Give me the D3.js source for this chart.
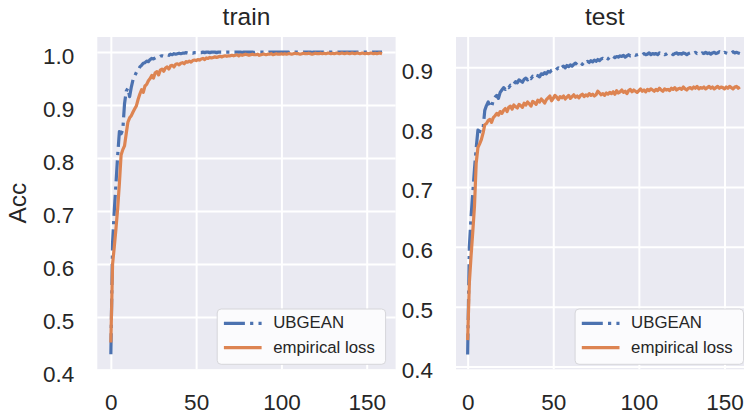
<!DOCTYPE html>
<html>
<head>
<meta charset="utf-8">
<script src="https://cdn.jsdelivr.net/npm/d3@7"></script>
<style>
body { margin: 0; background: #fff; }
svg text { font-family: "Liberation Sans", Arial, sans-serif; fill: #262626; }
</style>
</head>
<body>
<div id="chart"></div>
<script>
var seriesNames = ["UBGEAN", "empirical loss"];
var xTicks = [0, 50, 100, 150];
var trainYTicks = [0.4, 0.5, 0.6, 0.7, 0.8, 0.9, 1.0];
var testYTicks = [0.4, 0.5, 0.6, 0.7, 0.8, 0.9];

// accuracy per epoch
var trainUBGEAN = [
	.430,.640,.700,.752,.805,.850,.846,.853,.902,.926,
	.932,.916,.934,.948,.955,.962,.965,.972,.975,.979,
	.980,.983,.982,.986,.988,.987,.989,.991,.990,.992,
	.993,.992,.994,.995,.994,.996,.995,.997,.996,.997,
	.998,.997,.998,.998,.999,.998,.999,.999,.998,.999,
	.999,1.0,.999,.999,1.0,.999,1.0,1.0,.999,1.0,
	1.0,1.0,.999,1.0,1.0,1.0,.999,1.0,1.0,1.0,
	1.0,.999,1.0,1.0,1.0,1.0,1.0,.999,1.0,1.0,
	1.0,1.0,1.0,1.0,.999,1.0,1.0,1.0,1.0,1.0,
	1.0,1.0,.999,1.0,1.0,1.0,1.0,1.0,1.0,1.0,
	1.0,1.0,1.0,1.0,1.0,.999,1.0,1.0,1.0,1.0,
	1.0,1.0,1.0,1.0,1.0,1.0,1.0,1.0,.999,1.0,
	1.0,1.0,1.0,1.0,1.0,1.0,1.0,1.0,1.0,1.0,
	1.0,1.0,1.0,1.0,1.0,1.0,1.0,1.0,1.0,1.0,
	1.0,1.0,1.0,1.0,1.0,1.0,1.0,1.0,1.0,1.0,
	1.0,1.0,1.0,1.0,1.0,1.0,1.0,1.0,1.0,1.0
];
var trainEmpirical = [
	.452,.600,.632,.667,.705,.752,.806,.816,.823,.846,
	.868,.876,.880,.887,.893,.899,.911,.921,.929,.924,
	.936,.939,.946,.950,.956,.951,.961,.963,.957,.966,
	.968,.964,.970,.972,.968,.974,.975,.972,.977,.978,
	.976,.979,.980,.978,.982,.981,.983,.981,.984,.985,
	.984,.986,.985,.987,.988,.986,.989,.988,.990,.989,
	.990,.991,.990,.991,.992,.991,.992,.993,.992,.993,
	.993,.994,.993,.994,.995,.993,.995,.994,.995,.996,
	.995,.994,.995,.996,.995,.995,.996,.994,.995,.996,
	.996,.995,.996,.996,.997,.995,.996,.997,.996,.996,
	.997,.996,.997,.996,.997,.997,.996,.997,.998,.997,
	.997,.996,.997,.998,.997,.997,.998,.997,.996,.997,
	.998,.997,.997,.998,.997,.998,.997,.998,.998,.997,
	.998,.997,.998,.998,.997,.998,.998,.997,.998,.998,
	.997,.998,.998,.997,.998,.998,.997,.998,.998,.997,
	.998,.997,.998,.998,.997,.998,.997,.998,.998,.997
];
var testUBGEAN = [
	.420,.600,.650,.690,.730,.765,.795,.793,.792,.797,
	.828,.836,.842,.837,.833,.846,.850,.853,.848,.858,
	.862,.866,.863,.868,.866,.870,.868,.872,.876,.874,
	.879,.877,.875,.880,.882,.879,.884,.881,.885,.883,
	.887,.886,.884,.889,.888,.891,.889,.893,.892,.895,
	.896,.894,.897,.899,.896,.900,.902,.899,.903,.901,
	.904,.902,.905,.907,.904,.906,.908,.905,.909,.907,
	.910,.908,.911,.909,.912,.910,.913,.911,.914,.915,
	.913,.916,.914,.917,.915,.918,.916,.918,.917,.919,
	.918,.920,.917,.919,.921,.919,.920,.922,.920,.921,
	.922,.920,.921,.923,.921,.922,.924,.921,.923,.922,
	.923,.921,.924,.922,.923,.921,.922,.924,.922,.923,
	.921,.923,.924,.922,.923,.922,.924,.923,.921,.923,
	.924,.922,.923,.925,.923,.924,.922,.924,.923,.925,
	.923,.924,.922,.924,.925,.923,.924,.926,.924,.923,
	.925,.924,.923,.925,.924,.926,.924,.925,.924,.923
];
var testEmpirical = [
	.444,.540,.585,.625,.668,.740,.766,.772,.779,.790,
	.804,.806,.811,.813,.808,.816,.819,.823,.820,.826,
	.823,.828,.831,.826,.833,.835,.830,.837,.834,.832,
	.838,.836,.833,.840,.837,.842,.839,.835,.843,.841,
	.838,.845,.842,.847,.844,.840,.846,.849,.852,.844,
	.848,.853,.850,.846,.851,.849,.852,.847,.850,.853,
	.848,.851,.854,.850,.852,.849,.853,.855,.851,.854,
	.852,.856,.853,.855,.852,.854,.860,.857,.854,.856,
	.853,.857,.855,.858,.856,.859,.855,.861,.857,.859,
	.862,.858,.860,.856,.861,.863,.859,.862,.860,.858,
	.861,.864,.860,.862,.859,.863,.861,.864,.862,.860,
	.863,.861,.865,.862,.860,.864,.862,.863,.861,.865,
	.863,.866,.862,.864,.865,.863,.867,.864,.862,.865,
	.866,.864,.867,.865,.868,.864,.866,.865,.867,.864,
	.866,.868,.865,.867,.864,.866,.868,.865,.867,.866,
	.864,.867,.865,.868,.866,.864,.867,.868,.865,.867
];

var width = 744, height = 414;
var colors = ["#4C72B0", "#DD8452"];
var lw = 3.2;
var dashDot = "21,5.2,3.2,5.2";

var panels = [
	{ title: "train", left: 97.3, right: 395.6, xMin: -7.95, yDomain: [0.4015, 1.0285], yTicks: trainYTicks, data: [trainUBGEAN, trainEmpirical], ylabel: "Acc" },
	{ title: "test", left: 456, right: 753.5, xMin: -6.8, yDomain: [0.3953, 0.9506], yTicks: testYTicks, data: [testUBGEAN, testEmpirical] }
];
var plotTop = 37, plotBottom = 369.3;

var svg = d3.select("#chart").append("svg")
	.attr("width", width)
	.attr("height", height);

panels.forEach(function(p, pi) {
	var n = p.data[0].length;
	var x = d3.scaleLinear()
		.domain([p.xMin, n - 1 + 7.95])
		.range([p.left, p.right]);
	var y = d3.scaleLinear()
		.domain(p.yDomain)
		.range([plotBottom, plotTop]);
	var w = p.right - p.left, h = plotBottom - plotTop;

	var g = svg.append("g");

	g.append("rect")
		.attr("x", p.left).attr("y", plotTop)
		.attr("width", w).attr("height", h)
		.attr("fill", "#EAEAF2");

	// grids
	var yAxis = g.append("g")
		.attr("transform", "translate(" + p.left + ",0)")
		.call(d3.axisLeft(y).tickValues(p.yTicks).tickSize(-w).tickPadding(23).tickFormat(d3.format(".1f")));
	var xAxis = g.append("g")
		.attr("transform", "translate(0," + plotBottom + ")")
		.call(d3.axisBottom(x).tickValues(xTicks).tickSize(-h).tickPadding(25));

	[yAxis, xAxis].forEach(function(a) {
		a.select(".domain").remove();
		a.selectAll("line").attr("stroke", "#fff").attr("stroke-width", 2);
		a.selectAll("text").attr("font-size", "22.5px").attr("fill", "#262626");
	});
	yAxis.selectAll("text").attr("dy", "0.49em");

	svg.append("clipPath").attr("id", "clip" + pi)
		.append("rect")
		.attr("x", p.left).attr("y", plotTop)
		.attr("width", w).attr("height", h);

	var line = d3.line()
		.x(function(d, i) { return x(i); })
		.y(function(d) { return y(d); });

	var lines = g.append("g").attr("clip-path", "url(#clip" + pi + ")");
	p.data.forEach(function(s, si) {
		lines.append("path")
			.datum(s)
			.attr("fill", "none")
			.attr("stroke", colors[si])
			.attr("stroke-width", lw)
			.attr("stroke-linejoin", "round")
			.attr("stroke-dasharray", si === 0 ? dashDot : null)
			.attr("d", line);
	});

	g.append("text")
		.attr("x", (p.left + p.right) / 2)
		.attr("y", 25)
		.attr("text-anchor", "middle")
		.attr("font-size", "24.5px")
		.text(p.title);

	if (p.ylabel) {
		g.append("text")
			.attr("transform", "translate(26," + ((plotTop + plotBottom) / 2) + ") rotate(-90)")
			.attr("text-anchor", "middle")
			.attr("font-size", "24.5px")
			.text(p.ylabel);
	}

	// legend
	var lgW = 168.4, lgH = 55.3;
	var lgX = p.right - 10 - lgW, lgY = plotBottom - 5 - lgH;
	var lg = g.append("g").attr("transform", "translate(" + lgX + "," + lgY + ")");
	lg.append("rect")
		.attr("width", lgW).attr("height", lgH)
		.attr("rx", 4)
		.attr("fill", "#fbfbfd")
		.attr("stroke", "#d6d6da")
		.attr("stroke-width", 1);
	seriesNames.forEach(function(name, si) {
		var ly = 14.3 + si * 24.4;
		lg.append("line")
			.attr("x1", 6.7).attr("x2", 44.4)
			.attr("y1", ly).attr("y2", ly)
			.attr("stroke", colors[si])
			.attr("stroke-width", lw)
			.attr("stroke-dasharray", si === 0 ? dashDot : null);
		lg.append("text")
			.attr("x", 56)
			.attr("y", ly + 5)
			.attr("font-size", "16.8px")
			.text(name);
	});
});
</script>
</body>
</html>
